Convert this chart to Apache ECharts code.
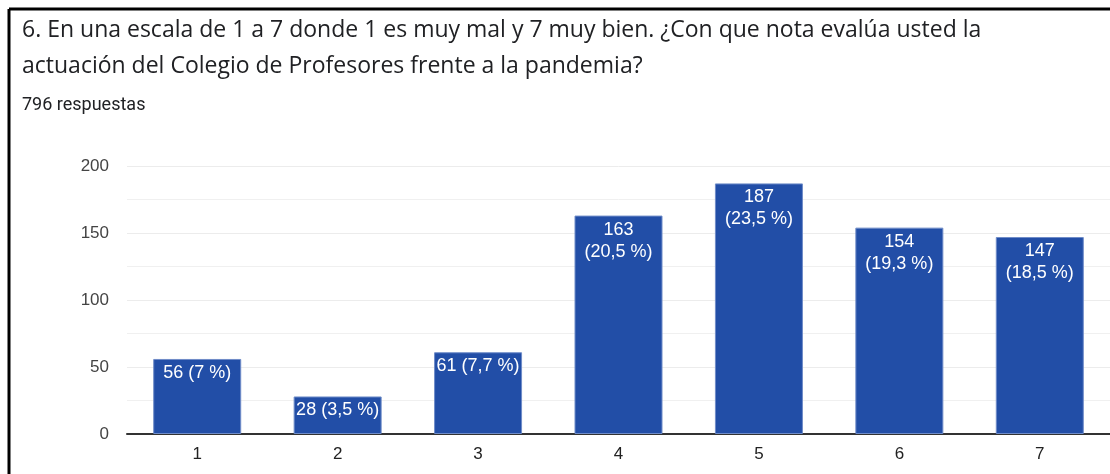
<!DOCTYPE html>
<html>
<head>
<meta charset="utf-8">
<script src="https://cdn.jsdelivr.net/npm/echarts@6/dist/echarts.min.js"></script>
<style>
  html, body { margin: 0; padding: 0; background: #fff; }
  #chart { width: 1110px; height: 474px; }
</style>
</head>
<body>
<div id="chart"></div>
<script>
// categorías (nota 1..7)
const categories = ['1', '2', '3', '4', '5', '6', '7'];
// número de respuestas por nota
const counts = [56, 28, 61, 163, 187, 154, 147];
// porcentajes
const percents = ['7', '3,5', '7,7', '20,5', '23,5', '19,3', '18,5'];
// marcas del eje y
const yTicks = [0, 50, 100, 150, 200];

const titleLines = [
  '6. En una escala de 1 a 7 donde 1 es muy mal y 7 muy bien. ¿Con que nota evalúa usted la',
  'actuación del Colegio de Profesores frente a la pandemia?'
];
const subtitle = '796 respuestas';

const myChart = echarts.init(document.getElementById('chart'));

myChart.setOption({
  backgroundColor: '#fff',
  animation: false,
  title: {
    text: titleLines.join('\n'),
    subtext: subtitle,
    left: 17,
    top: 7,
    itemGap: 12,
    textStyle: {
      fontFamily: 'Open Sans',
      fontWeight: 'normal',
      fontSize: 23,
      lineHeight: 36,
      color: '#202124'
    },
    subtextStyle: {
      fontFamily: 'Roboto',
      fontSize: 18,
      color: '#202124'
    }
  },
  graphic: [
    // marco negro (arriba e izquierda)
    { type: 'line', shape: { x1: 9, y1: 9, x2: 1110, y2: 9 }, style: { stroke: '#000', lineWidth: 3 } },
    { type: 'line', shape: { x1: 9, y1: 9, x2: 9, y2: 474 }, style: { stroke: '#000', lineWidth: 3 } }
  ],
  grid: {
    left: 127,
    right: -2,
    top: 166,
    bottom: 40
  },
  xAxis: {
    type: 'category',
    data: categories,
    axisLine: { lineStyle: { color: '#333', width: 2 } },
    axisTick: { show: false },
    axisLabel: {
      color: '#222',
      fontFamily: 'Liberation Sans',
      fontSize: 17,
      margin: 12
    }
  },
  yAxis: {
    type: 'value',
    min: yTicks[0],
    max: yTicks[yTicks.length - 1],
    interval: 50,
    axisLine: { show: false },
    axisTick: { show: false },
    axisLabel: {
      color: '#444',
      fontFamily: 'Liberation Sans',
      fontSize: 17,
      margin: 18
    },
    splitLine: { lineStyle: { color: '#ececec', width: 1 } },
    minorTick: { show: false, splitNumber: 2 },
    minorSplitLine: { show: true, lineStyle: { color: '#f0f0f0', width: 1 } }
  },
  series: [
    {
      type: 'bar',
      data: counts,
      barWidth: 88,
      itemStyle: {
        color: '#224ea7',
        borderColor: '#6f8cc8',
        borderWidth: 1
      },
      label: {
        show: true,
        position: 'insideTop',
        distance: 3,
        color: '#fff',
        fontFamily: 'Liberation Sans',
        fontSize: 18,
        lineHeight: 22,
        // barras altas: dos líneas
        formatter: (p) => counts[p.dataIndex] + (counts[p.dataIndex] > 100 ? '\n' : ' ') +
          '(' + percents[p.dataIndex] + ' %)'
      }
    }
  ]
});
</script>
</body>
</html>
